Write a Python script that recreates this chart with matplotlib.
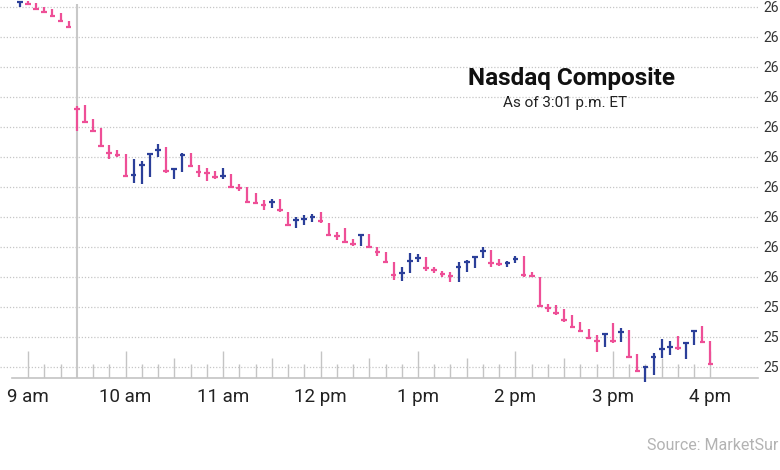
import numpy as np
import matplotlib
matplotlib.use("Agg")
import matplotlib.pyplot as plt

plt.rcParams['font.family'] = ['Roboto', 'DejaVu Sans']

# 5-minute bars: minutes since midnight, high / low / close
pre_times = [535, 540, 545, 550, 555, 560, 565]
pre_high = [26275, 26276, 26274, 26270, 26268, 26264, 26256]
pre_low = [26270, 26272, 26267, 26264, 26260, 26255, 26250]
pre_close = [26275, 26273, 26268, 26265, 26261, 26256, 26250]
prior_close = 26266

day_high = [26171, 26172, 26158, 26149, 26132, 26127,
            26123, 26118, 26116, 26124, 26133, 26130, 26109, 26124, 26124, 26112, 26109, 26106,
            26109, 26103, 26093, 26090, 26084, 26077, 26078, 26078, 26065, 26060, 26062, 26063,
            26065, 26054, 26045, 26049, 26038, 26043, 26043, 26030, 26025, 26015, 26010, 26024,
            26023, 26020, 26010, 26006, 26005, 26015, 26017, 26021, 26030, 26027, 26018, 26016,
            26021, 26021, 26005, 26000, 25973, 25972, 25968, 25962, 25955, 25948, 25942, 25944,
            25954, 25949, 25947, 25923, 25911, 25924, 25938, 25936, 25941, 25935, 25947, 25951,
            25936]
day_low = [26146, 26154, 26145, 26130, 26118, 26120,
           26100, 26094, 26093, 26100, 26120, 26104, 26098, 26105, 26110, 26100, 26096, 26098,
           26098, 26089, 26086, 26074, 26074, 26067, 26069, 26065, 26051, 26049, 26052, 26055,
           26054, 26041, 26037, 26034, 26031, 26031, 26029, 26021, 26014, 25997, 25996, 26004,
           26015, 26006, 26004, 26000, 25995, 25995, 26005, 26009, 26019, 26010, 26011, 26010,
           26014, 26000, 26000, 25970, 25965, 25962, 25955, 25949, 25945, 25938, 25925, 25930,
           25934, 25935, 25920, 25905, 25895, 25902, 25919, 25922, 25927, 25918, 25932, 25934,
           25912]
day_close = [26168, 26155, 26146, 26131, 26124, 26122,
             26101, 26102, 26112, 26123, 26127, 26106, 26108, 26122, 26111, 26105, 26104, 26100,
             26101, 26090, 26089, 26075, 26074, 26072, 26075, 26067, 26052, 26057, 26058, 26060,
             26056, 26042, 26041, 26035, 26033, 26042, 26030, 26025, 26015, 26002, 26004, 26016,
             26019, 26009, 26007, 26003, 26001, 26010, 26015, 26020, 26026, 26014, 26013, 26014,
             26018, 26002, 26001, 25971, 25969, 25964, 25957, 25950, 25946, 25939, 25936, 25943,
             25936, 25945, 25920, 25906, 25910, 25920, 25928, 25930, 25929, 25934, 25946, 25935,
             25913]
day_times = list(range(570, 961, 5))

grid_levels = list(range(25910, 26271, 30))
grid_labels = ['25', '25', '25', '26', '26', '26', '26', '26', '26', '26', '26', '26', '26']
hour_ticks = [540, 600, 660, 720, 780, 840, 900, 960]
hour_labels = ['9 am', '10 am', '11 am', '12 pm', '1 pm', '2 pm', '3 pm', '4 pm']

pink = '#ee4f97'
blue = '#2b3f99'

fig = plt.figure(figsize=(7.8, 4.7), dpi=100)
ax = fig.add_axes([0, 92/470, 758/780, 378/470])

t0 = 540 - 28/1.625
t1 = 540 + 730/1.625
ax.set_xlim(t0, t1)
ax.set_ylim(25899, 26277)

for s in ['top', 'left', 'right']:
    ax.spines[s].set_visible(False)
ax.spines['bottom'].set_color('#c4c4c4')
ax.spines['bottom'].set_linewidth(1.2)
ax.spines['bottom'].set_bounds(540 - 16/1.625, t1)

# gridlines
for g in grid_levels:
    ax.axhline(g, color='#c6c6c6', lw=0.9, ls=(0, (1, 1.5)), zorder=0)

# axis ticks drawn as lines from the baseline
trans = ax.get_xaxis_transform()
for m in range(540, 961, 10):
    if m == 570:
        continue
    if m % 60 == 0:
        h = 27/378
    elif m % 30 == 0:
        h = 20/378
    else:
        h = 14/378
    ax.vlines(m, 0, h, transform=trans, color='#c4c4c4', lw=1.0, zorder=1)
# market open line
ax.vlines(570, 0, 1 - 4/378, transform=trans, color='#c8c8c8', lw=1.5, zorder=1)

times = pre_times + day_times
highs = pre_high + day_high
lows = pre_low + day_low
closes = pre_close + day_close
prev = [prior_close] + closes[:-1]
cols = [blue if c > p else pink for c, p in zip(closes, prev)]

ax.vlines(times, lows, highs, colors=cols, lw=1.6, zorder=3, clip_on=False)
ax.hlines(closes, np.array(times) - 1.7, np.array(times) + 1.7, colors=cols,
          lw=1.6, zorder=3, clip_on=False)

ax.set_xticks(hour_ticks)
ax.set_xticklabels(hour_labels, fontsize=13.5, color='#222222')
ax.tick_params(axis='x', length=0, pad=7)

ax.yaxis.tick_right()
ax.set_yticks(grid_levels)
ax.set_yticklabels(grid_labels, fontsize=10, color='#333333')
ax.tick_params(axis='y', length=0, pad=4)

fig.text(572/780, 1 - 79/470, 'Nasdaq Composite', fontsize=17.5, fontweight='bold',
         ha='center', va='center', color='#111111')
fig.text(565.5/780, 1 - 103/470, 'As of 3:01 p.m. ET', fontsize=11,
         ha='center', va='center', color='#222222')
fig.text(778/780, 1 - 445/470, 'Source: MarketSur', fontsize=11.5,
         ha='right', va='center', color='#b3b3b3')

fig.savefig('out.png', dpi=100)
